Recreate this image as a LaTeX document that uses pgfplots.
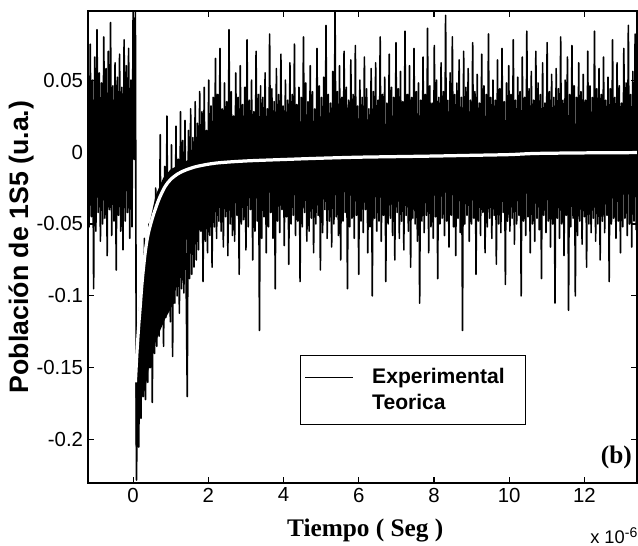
\documentclass[border=0pt]{standalone}
\usepackage{fontspec}
\setmainfont{Liberation Sans}
\newfontfamily\timesfont{Liberation Serif}
\usepackage{pgfplots}
\pgfplotsset{compat=1.18}
\usepackage{pgfplotstable}

% poblacion 1S5, en milesimas (u.a.), muestreo 0.03 us desde -1.2 us
\pgfplotstableread[header=false,row sep=\\]{
60\\ -52\\ 75\\ -45\\ 50\\ -95\\ 66\\ -55\\ 85\\ -42\\ 55\\ -62\\ 48\\ -50\\ 80\\ -46\\ 58\\ -72\\ 70\\ -40\\
90\\ -58\\ 46\\ -48\\ 62\\ -82\\ 52\\ -44\\ 68\\ -55\\ 45\\ -68\\ 78\\ -48\\ 60\\ -42\\ 72\\ -60\\ 50\\ -52\\
100\\ -5\\ 100\\
-228\\ -150\\ -205\\ -105\\ -185\\ -95\\ -170\\ -60\\ -172\\ -80\\ -160\\ -50\\ -150\\ -60\\ -174\\ -45\\ -140\\ -25\\ -135\\ -40\\
-128\\ 12\\ -120\\ -30\\ -135\\ -10\\ -115\\ 25\\ -110\\ -15\\ -118\\ 5\\ -142\\ -20\\ -105\\ 18\\ -100\\ -5\\ -112\\ 28\\
-95\\ 8\\ -98\\ 22\\ -90\\ -170\\ 15\\ -88\\ 30\\ -85\\ 10\\ -80\\
35\\ -75\\ 20\\ -68\\ 42\\ -55\\ 28\\ -90\\ 45\\ -62\\ 15\\ -70\\ 50\\ -58\\ 32\\ -80\\ 38\\ -52\\ 65\\ -60\\
40\\ -48\\ 72\\ -55\\ 30\\ -66\\ 48\\ -45\\ 35\\ -72\\ 85\\ -50\\ 42\\ -58\\ 25\\ -62\\ 55\\ -44\\ 38\\ -85\\
60\\ -50\\ 33\\ -47\\ 45\\ -68\\ 78\\ -52\\ 36\\ -40\\ 50\\ -75\\ 28\\ -55\\ 70\\ -48\\ 40\\ -124\\ 46\\ -60\\
38\\ -45\\ 55\\ -70\\ 30\\ -52\\ 82\\ -42\\ 44\\ -60\\ 35\\ -95\\ 58\\ -48\\ 40\\ -56\\ 68\\ -40\\ 32\\ -65\\
50\\ -45\\ 36\\ -78\\ 62\\ -50\\ 40\\ -44\\ 75\\ -58\\ 33\\ -48\\ 45\\ -90\\ 38\\ -52\\ 80\\ -42\\ 48\\ -62\\
35\\ -55\\ 60\\ -46\\ 42\\ -70\\ 30\\ -50\\ 72\\ -44\\ 46\\ -82\\ 38\\ -56\\ 52\\ -40\\ 88\\ -60\\ 40\\ -48\\
34\\ -66\\ 56\\ -50\\ 100\\ -45\\ 42\\ -58\\ 60\\ -75\\ 38\\ -48\\ 70\\ -42\\ 45\\ -95\\ 36\\ -52\\ 64\\ -46\\
40\\ -60\\ 74\\ -44\\ 32\\ -85\\ 50\\ -48\\ 38\\ -56\\ 66\\ -40\\ 44\\ -70\\ 30\\ -52\\ 58\\ -100\\ 42\\ -46\\
62\\ -55\\ 36\\ -48\\ 80\\ -62\\ 40\\ -44\\ 52\\ -90\\ 34\\ -50\\ 68\\ -46\\ 45\\ -58\\ 38\\ -75\\ 76\\ -42\\
44\\ -60\\ 56\\ -48\\ 35\\ -68\\ 84\\ -44\\ 40\\ -55\\ 60\\ -80\\ 38\\ -46\\ 72\\ -50\\ 42\\ -62\\ 48\\ -105\\
36\\ -48\\ 66\\ -56\\ 40\\ -44\\ 86\\ -70\\ 46\\ -52\\ 34\\ -60\\ 74\\ -45\\ 50\\ -88\\ 38\\ -50\\ 62\\ -46\\
42\\ -58\\ 95\\ -48\\ 36\\ -66\\ 55\\ -44\\ 80\\ -52\\ 40\\ -72\\ 48\\ -46\\ 64\\ -56\\ 38\\ -124\\ 70\\ -50\\
45\\ -44\\ 58\\ -62\\ 36\\ -50\\ 76\\ -46\\ 42\\ -85\\ 54\\ -48\\ 34\\ -58\\ 68\\ -42\\ 46\\ -70\\ 40\\ -52\\
82\\ -46\\ 38\\ -60\\ 50\\ -44\\ 36\\ -78\\ 64\\ -50\\ 44\\ -56\\ 72\\ -42\\ 35\\ -92\\ 48\\ -48\\ 60\\ -55\\
40\\ -46\\ 78\\ -64\\ 36\\ -50\\ 52\\ -44\\ 42\\ -100\\ 66\\ -48\\ 38\\ -58\\ 84\\ -45\\ 44\\ -70\\ 56\\ -50\\
36\\ -62\\ 70\\ -46\\ 48\\ -54\\ 40\\ -88\\ 62\\ -44\\ 34\\ -56\\ 76\\ -48\\ 42\\ -66\\ 54\\ -50\\ 38\\ -105\\
58\\ -46\\ 44\\ -60\\ 80\\ -50\\ 36\\ -72\\ 50\\ -44\\ 66\\ -110\\ 40\\ -52\\ 74\\ -46\\ 46\\ -100\\ 38\\ -58\\
62\\ -48\\ 42\\ -64\\ 54\\ -45\\ 36\\ -80\\ 70\\ -50\\ 46\\ -56\\ 38\\ -46\\ 84\\ -62\\ 44\\ -50\\ 58\\ -75\\
40\\ -48\\ 66\\ -56\\ 36\\ -44\\ 52\\ -90\\ 44\\ -50\\ 78\\ -46\\ 38\\ -60\\ 62\\ -48\\ 46\\ -70\\ 34\\ -52\\
72\\ -46\\ 48\\ -58\\ 88\\ -50\\ 40\\ -66\\ 56\\ -48\\ 82\\ -54\\ 44\\
}\expdata

\begin{document}
\begin{tikzpicture}
\useasboundingbox (-2.2cm,-1.575cm) rectangle (13.75cm,12.075cm);
\begin{axis}[
    at={(0,0)}, anchor=south west,
    scale only axis,
    width=13.725cm, height=11.8cm,
    xmin=-1.2, xmax=13.4,
    ymin=-230, ymax=98,
    xtick={0,2,4,6,8,10,12},
    xticklabels={0,2,4,6,8,10,12},
    ytick={-200,-150,-100,-50,0,50},
    yticklabels={-0.2,-0.15,-0.1,-0.05,0,0.05},
    tick align=inside,
    major tick length=4pt,
    tick style={black, line width=0.8pt},
    axis line style={line width=1pt},
    ticklabel style={font=\fontsize{14.5}{16}\selectfont},
    /pgf/number format/assume math mode=true,
    xlabel={\timesfont\bfseries Tiempo ( Seg )},
    xlabel style={at={(axis description cs:0.505,-0.1)}, anchor=center,
        font=\fontsize{18}{20}\selectfont},
    ylabel={\bfseries Población de 1S5 (u.a.)},
    ylabel style={at={(axis description cs:-0.122,0.5)}, anchor=center,
        font=\fontsize{19}{21}\selectfont},
    legend style={at={(0.386,0.271)}, anchor=north west, draw=black,
        line width=1pt, fill=white, inner xsep=3pt, inner ysep=7pt,
        row sep=2pt,
        font=\bfseries\fontsize{15}{17}\selectfont, cells={anchor=west}},
    legend image code/.code={\draw[#1,line width=0.8pt] (0.125cm,0cm) -- (1.325cm,0cm);},
]
% --- nucleo denso de la subida (experimental) ---
\addplot[black, fill=black, draw=none, forget plot] coordinates {
    (0.06,-205) (0.12,-195) (0.20,-172) (0.32,-165) (0.45,-145) (0.60,-132)
    (0.72,-124) (0.85,-116) (0.98,-110) (1.07,-100) (1.15,-80) (1.30,-65)
    (1.50,-58) (1.80,-52) (2.00,-48)
    (2.00,0) (1.50,-5) (1.00,-12) (0.80,-18) (0.60,-30) (0.45,-48)
    (0.33,-62) (0.23,-85) (0.15,-110) (0.10,-130) (0.06,-150)
} \closedcycle;

% --- experimental ---
\addplot[black, line width=1.15pt, line join=round, mark=none]
    table[x expr=\coordindex*0.03-1.2, y index=0] {\expdata};
\addlegendentry{\hspace{11pt}Experimental\rule{10pt}{0pt}}

% --- teorica ---
\addplot[white, line width=2.3pt, mark=none, smooth] coordinates {
    (0.06,-160) (0.10,-140) (0.15,-120) (0.19,-107) (0.23,-93) (0.27,-82)
    (0.33,-68) (0.40,-57) (0.50,-47) (0.60,-39) (0.70,-32) (0.85,-24)
    (1.00,-19) (1.20,-15) (1.40,-12.5) (1.70,-10) (2.20,-7.7) (3.00,-6.2)
    (4.00,-5.2) (5.00,-4.3) (6.00,-3.6) (7.00,-3.2) (8.00,-2.8) (9.00,-2.3)
    (10.0,-1.8) (10.7,-1.0) (12.0,-0.6) (13.4,-0.4)
};
\addlegendentry{\hspace{11pt}Teorica}

\node[font=\timesfont\bfseries\fontsize{18}{20}\selectfont] at (axis cs:12.85,-212) {(b)};
\end{axis}
\node[anchor=base west, font=\fontsize{13}{15}\selectfont, inner sep=0pt]
    at (12.55cm,-1.52cm) {x 10\raisebox{0.7ex}{\fontsize{10}{10}\selectfont -6}};
\end{tikzpicture}
\end{document}
